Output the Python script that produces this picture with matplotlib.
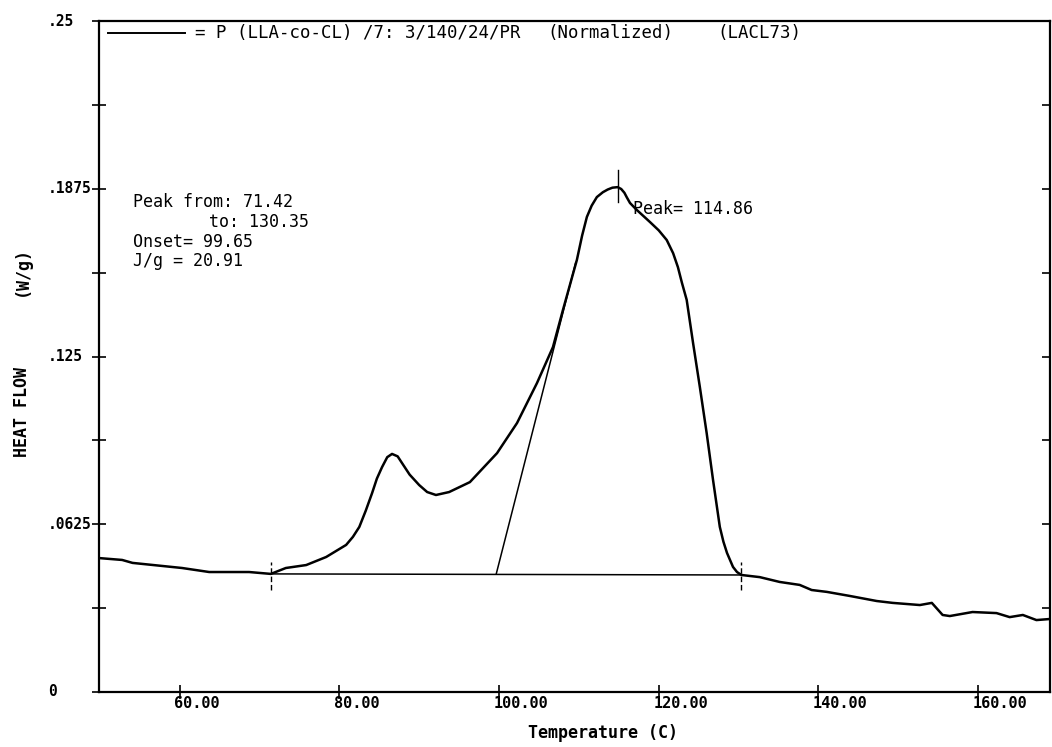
import matplotlib
matplotlib.use("Agg")
import matplotlib.pyplot as plt
import matplotlib.transforms as mtransforms

# DSC heating scan, normalized heat flow
temp = [49.9, 52.8, 54.1, 60.3, 63.7, 68.7, 71.42, 73.3, 75.85, 78.35, 80.85,
        81.7, 82.5, 83.3, 84.1, 84.7, 85.35, 86.0, 86.6, 87.3, 87.85, 88.8,
        90.0, 91.0, 92.1, 93.75, 96.35, 99.75, 102.25, 104.75, 106.75, 108.0,
        109.75, 110.4, 111.0, 111.6, 112.25, 113.0, 113.6, 114.2, 114.86,
        115.3, 115.7, 116.0, 116.4, 117.25, 118.9, 120.0, 121.0, 121.8, 122.4,
        122.9, 123.5, 124.3, 125.15, 126.0, 126.8, 127.65, 128.1, 128.55,
        129.3, 129.8, 130.35, 132.65, 135.15, 137.65, 139.15, 141.05, 143.9,
        147.3, 149.3, 152.7, 154.2, 155.55, 156.45, 159.3, 162.3, 163.95,
        165.6, 167.3, 169.0]
heat_flow = [0.0499, 0.0492, 0.0481, 0.0462, 0.0447, 0.0447, 0.0440, 0.0462,
             0.0473, 0.0503, 0.0548, 0.0578, 0.0615, 0.0675, 0.0741, 0.0795,
             0.0838, 0.0875, 0.0887, 0.0878, 0.0853, 0.0810, 0.0771, 0.0745,
             0.0734, 0.0745, 0.0782, 0.0890, 0.1002, 0.1151, 0.1285, 0.1423,
             0.1610, 0.1700, 0.1770, 0.1812, 0.1844, 0.1862, 0.1872, 0.1879,
             0.1881, 0.1874, 0.1860, 0.1843, 0.1822, 0.1796, 0.1751, 0.1720,
             0.1684, 0.1635, 0.1583, 0.1525, 0.1461, 0.1300, 0.1136, 0.0965,
             0.0790, 0.0615, 0.0560, 0.0518, 0.0466, 0.0447, 0.0436, 0.0428,
             0.0410, 0.0399, 0.0380, 0.0373, 0.0358, 0.0339, 0.0332, 0.0324,
             0.0332, 0.0287, 0.0283, 0.0298, 0.0294, 0.0279, 0.0287, 0.0268,
             0.0272]

peak_from = 71.42
peak_to = 130.35
onset = 99.65
peak_temp = 114.86
enthalpy = 20.91
baseline_y = [0.0440, 0.0436]
tangent_x = [onset, 109.6]
tangent_y = [0.0440, 0.1600]

xticks = [60, 80, 100, 120, 140, 160]
yticks = [0, 0.0625, 0.125, 0.1875, 0.25]
ytick_labels = ["0", ".0625", ".125", ".1875", ".25"]

mono = "DejaVu Sans Mono"

fig = plt.figure(figsize=(10.52, 7.47), dpi=100)
ax = fig.add_axes([99 / 1052, 1 - 692 / 747, 951 / 1052, 671 / 747])

ax.plot(temp, heat_flow, color="black", lw=1.8, solid_joinstyle="round")
ax.plot([peak_from, peak_to], baseline_y, color="black", lw=1.1)
ax.plot(tangent_x, tangent_y, color="black", lw=1.1)

# limit markers
for t in [peak_from, peak_to]:
    ax.plot([t, t], [0.0380, 0.0484], color="black", lw=1.0, ls=(0, (4, 2)))
ax.plot([peak_temp, peak_temp], [0.1826, 0.1945], color="black", lw=1.0)

ax.set_xlim(49.9, 169.0)
ax.set_ylim(0, 0.25)

for s in ax.spines.values():
    s.set_linewidth(1.6)

ax.set_xticks(xticks)
ax.set_xticklabels([])
ax.set_yticks(yticks)
ax.set_yticks([0.03125, 0.09375, 0.15625, 0.21875], minor=True)
ax.set_yticklabels([])
ax.tick_params(axis="both", which="both", direction="inout", length=10,
               width=1.2, labelleft=False, labelbottom=False)

# inward ticks on the right edge
right = ax.secondary_yaxis("right")
right.set_yticks([0.03125 * i for i in range(1, 8)])
right.tick_params(direction="in", length=6, width=1.2, labelright=False)
right.spines["right"].set_visible(False)

# tick labels
ylab_tr = mtransforms.blended_transform_factory(fig.transFigure, ax.transData)
for v, lab in zip(yticks, ytick_labels):
    ax.text(48 / 1052, v, lab, transform=ylab_tr, ha="left", va="center",
            family=mono, fontsize=10.5, fontweight="bold")

xlab_tr = mtransforms.blended_transform_factory(ax.transData, fig.transFigure)
for t in xticks:
    ax.text(t - 0.7, 1 - 704 / 747, "%.2f" % t, transform=xlab_tr,
            ha="left", va="center", family=mono, fontsize=11, fontweight="bold")

fig.text(603 / 1052, 1 - 733 / 747, "Temperature (C)", ha="center",
         va="center", family=mono, fontsize=12, fontweight="bold")
fig.text(22 / 1052, 1 - 412 / 747, "HEAT FLOW", rotation=90, ha="center",
         va="center", family=mono, fontsize=12, fontweight="bold")
fig.text(22 / 1052, 1 - 271 / 747, "(W/g)", rotation=90, ha="center",
         va="center", family=mono, fontsize=12, fontweight="bold")

# legend line and sample name
ax.plot([50.98, 60.63], [0.2455, 0.2455], color="black", lw=1.4)
ax.text(61.88, 0.2455, "= P (LLA-co-CL) /7: 3/140/24/PR", ha="left",
        va="center", family=mono, fontsize=12.5)
ax.text(106.1, 0.2455, "(Normalized)", ha="left", va="center",
        family=mono, fontsize=12.5)
ax.text(127.4, 0.2455, "(LACL73)", ha="left", va="center",
        family=mono, fontsize=12.5)

# peak analysis results
ax.text(54.11, 0.1826, "Peak from: %.2f" % peak_from, ha="left", va="center",
        family=mono, fontsize=12)
ax.text(63.63, 0.1751, "to: %.2f" % peak_to, ha="left", va="center",
        family=mono, fontsize=12)
ax.text(54.11, 0.1677, "Onset= %.2f" % onset, ha="left", va="center",
        family=mono, fontsize=12)
ax.text(54.11, 0.1606, "J/g = %.2f" % enthalpy, ha="left", va="center",
        family=mono, fontsize=12)
ax.text(116.77, 0.1800, "Peak= %.2f" % peak_temp, ha="left", va="center",
        family=mono, fontsize=12)

fig.savefig("out.png", dpi=100)
